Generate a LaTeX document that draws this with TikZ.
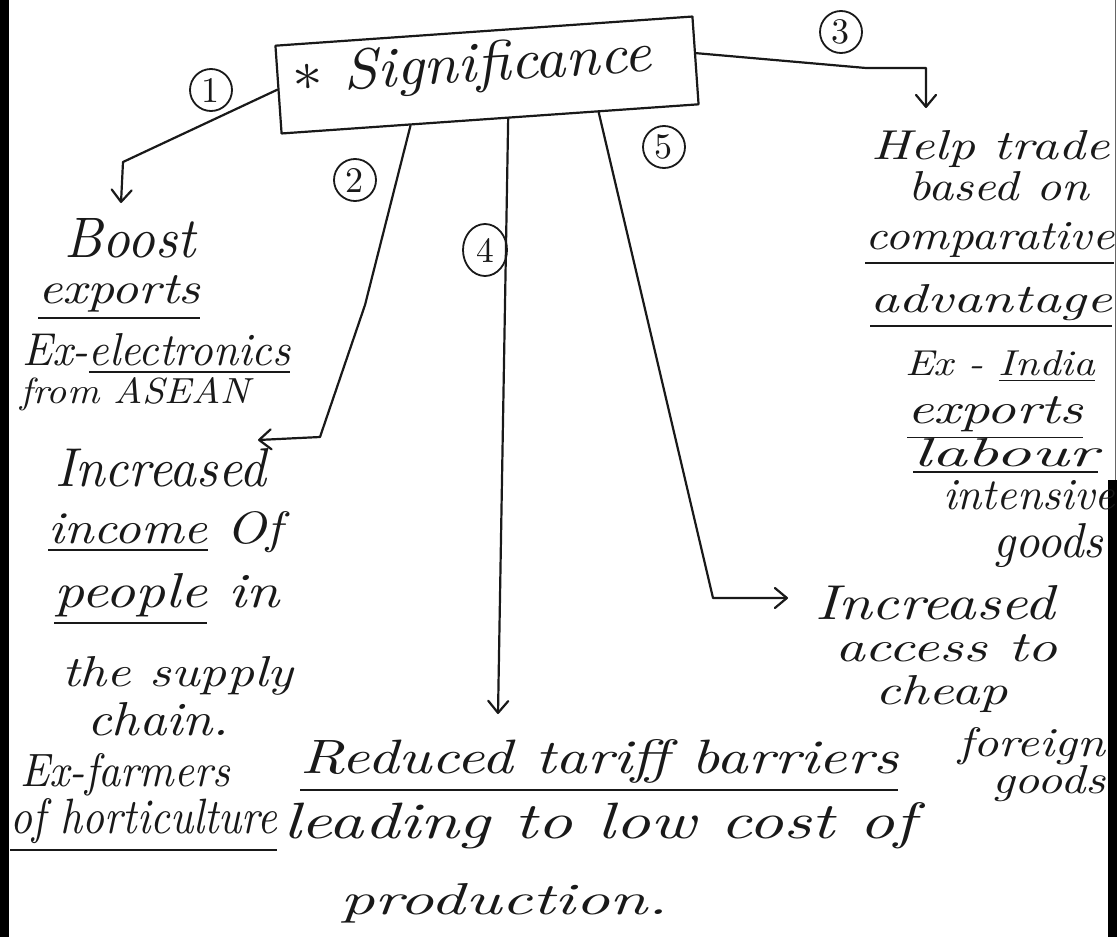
\documentclass[tikz,border=0pt]{standalone}
\usepackage{fontspec}
\usetikzlibrary{arrows.meta,calc,shapes.geometric}
\newcommand{\handtext}[3]{\resizebox{#1pt}{#2pt}{\itshape #3}}
\newcommand{\handdigit}[1]{\resizebox{!}{24pt}{#1}}
\begin{document}
\begin{tikzpicture}[x=1pt,y=-1pt,
  pen/.style={line width=2.2pt, draw=black!90, line cap=round, line join=round},
  conn/.style={pen, -{Straight Barb[length=12pt,width=20pt,round]}},
  txt/.style={inner sep=0pt, anchor=base west, text=black!90},
  numc/.style={circle, draw=black!90, line width=1.8pt, inner sep=0pt, minimum size=42pt, text=black!90},
  strip/.style={fill=black}
]
\fill[white] (0,0) rectangle (1117,937);
\useasboundingbox (0,0) rectangle (1117,937);
% scan edges
\fill[strip] (0,0) rectangle (9,937);
\fill[strip] (1108,480) rectangle (1117,937);
\draw[black!60, line width=1pt] (1115,0) -- (1115,480);

% central box
\node[pen, draw, rotate=4, minimum width=418pt, minimum height=88pt, inner sep=0pt] (box) at (487,75) {};
\node[txt, rotate=3.3] (title) at (293,92) {\handtext{360}{40}{$\ast$ Significance}};

% numbers
\node[numc] (n1) at (211,90) {\handdigit{1}};
\node[numc] (n2) at (355,180) {\handdigit{2}};
\node[numc] (n3) at (841,32) {\handdigit{3}};
\node[numc, ellipse, minimum width=44pt, minimum height=52pt] (n4) at (485,250) {\handdigit{4}};
\node[numc] (n5) at (664,147) {\handdigit{5}};

% bend and tip points
\coordinate (k1) at (123,162); \coordinate (t1) at (121,203);
\coordinate (k2a) at (365,305); \coordinate (k2b) at (320,437); \coordinate (t2) at (258,440);
\coordinate (k3a) at (866,68); \coordinate (k3b) at (926,68); \coordinate (t3) at (926,108);
\coordinate (t4) at (498,714);
\coordinate (k5) at (713,598); \coordinate (t5) at (788,598);

% connectors
\draw[conn] (box.west) -- (k1) -- (t1);
\draw[conn] ($(box.south west)!0.31!(box.south east)$) -- (k2a) -- (k2b) -- (t2);
\draw[conn] ($(box.north east)!0.42!(box.south east)$) -- (k3a) -- (k3b) -- (t3);
\draw[conn] ($(box.south west)!0.543!(box.south east)$) -- (t4);
\draw[conn] ($(box.south west)!0.759!(box.south east)$) -- (k5) -- (t5);

% branch 1
\node[txt] (boost) at (64,257) {\handtext{131}{39}{Boost}};
\node[txt] (exp1) at (38,303) {\handtext{162}{28}{\underline{exports}}};
\node[txt] (ex1) at (22,365) {\handtext{268}{32}{Ex-\underline{electronics}}};
\node[txt] (asean) at (20,403) {\handtext{230}{26}{from ASEAN}};

% branch 2
\node[txt] (inc1) at (55,486) {\handtext{211}{38}{Increased}};
\node[txt] (inc2) at (48,543) {\handtext{234}{32}{\underline{income} Of}};
\node[txt] (inc3) at (54,607) {\handtext{225}{34}{\underline{people} in}};
\node[txt] (inc4) at (62,686) {\handtext{231}{30}{the supply}};
\node[txt] (inc5) at (87,735) {\handtext{142}{33}{chain.}};
\node[txt] (inc6) at (20,786) {\handtext{210}{33}{Ex-farmers}};
\node[txt] (inc7) at (10,833) {\handtext{267}{35}{\underline{of horticulture}}};

% branch 4
\node[txt] (red1) at (300,773) {\handtext{598}{34}{\underline{Reduced tariff barriers}}};
\node[txt] (red2) at (283,838) {\handtext{632}{36}{leading to low cost of}};
\node[txt] (red3) at (340,914) {\handtext{328}{31}{production.}};

% branch 3
\node[txt] (h1) at (871,159) {\handtext{238}{29}{Help trade}};
\node[txt] (h2) at (908,200) {\handtext{181}{29}{based on}};
\node[txt] (h3) at (865,249) {\handtext{249}{27}{\underline{comparative}}};
\node[txt] (h4) at (870,312) {\handtext{242}{28}{\underline{advantage}}};
\node[txt] (h5) at (905,375) {\handtext{190}{25}{Ex - \underline{India}}};
\node[txt] (h6) at (907,423) {\handtext{176}{27}{\underline{exports}}};
\node[txt] (h7) at (913,466) {\handtext{185}{28}{\underline{labour}}};
\node[txt] (h8) at (943,509) {\handtext{172}{29}{intensive}};
\node[txt] (h9) at (993,557) {\handtext{110}{34}{goods}};

% branch 5
\node[txt] (c1) at (815,619) {\handtext{240}{34}{Increased}};
\node[txt] (c2) at (835,661) {\handtext{222}{27}{access to}};
\node[txt] (c3) at (875,704) {\handtext{133}{29}{cheap}};
\node[txt] (c4) at (958,756) {\handtext{147}{29}{foreign}};
\node[txt] (c5) at (992,793) {\handtext{113}{28}{goods}};
\end{tikzpicture}
\end{document}
